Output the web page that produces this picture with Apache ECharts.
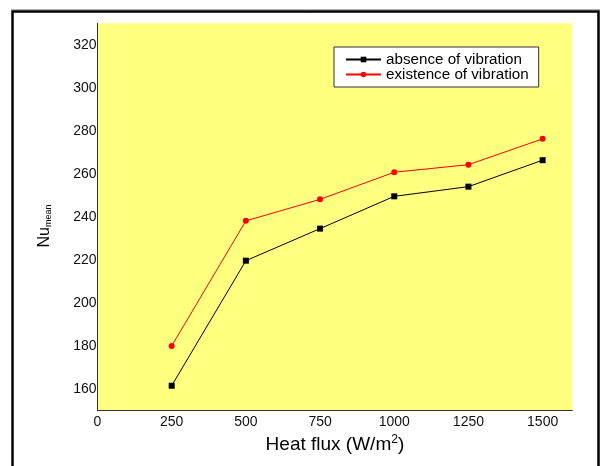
<!DOCTYPE html>
<html>
<head>
<meta charset="utf-8">
<script src="https://cdn.jsdelivr.net/npm/echarts@6/dist/echarts.min.js"></script>
<style>html,body{margin:0;padding:0;background:#fff}#c{width:603px;height:466px}</style>
</head>
<body>
<div id="c"></div>
<script>
var heatFlux = [250, 500, 750, 1000, 1250, 1500];
var absenceVib = [161.6, 219.7, 234.6, 249.6, 254.1, 266.4];
var existenceVib = [180.1, 238.2, 248.2, 260.8, 264.3, 276.3];
var seriesNames = ['absence of vibration', 'existence of vibration'];
var xTicks = [0, 250, 500, 750, 1000, 1250, 1500];
var yTicks = [160, 180, 200, 220, 240, 260, 280, 300, 320];

var font = '"Liberation Sans", Arial, sans-serif';
var chart = echarts.init(document.getElementById('c'), null, {renderer: 'canvas'});
function pairs(xs, ys) { return xs.map(function (x, i) { return [x, ys[i]]; }); }

chart.setOption({
  animation: false,
  backgroundColor: '#ffffff',
  textStyle: {fontFamily: font},
  graphic: [
    {type: 'line', shape: {x1: 11, y1: 9.5, x2: 600, y2: 9.5}, style: {stroke: '#b0b0b0', lineWidth: 1}, z: 100},
    {type: 'rect', shape: {x: 12.5, y: 11.5, width: 586, height: 500}, style: {fill: null, stroke: '#000', lineWidth: 2.5}, z: 100}
  ],
  grid: {left: 97.5, right: 30.7, top: 23.3, bottom: 55.3, show: true, backgroundColor: '#ffff80', borderWidth: 0},
  legend: {
    orient: 'vertical',
    left: 334, top: 47,
    padding: [5, 10, 5, 11],
    itemWidth: 35, itemHeight: 7, itemGap: 0,
    backgroundColor: '#ffffff',
    borderColor: '#333',
    borderWidth: 1,
    borderRadius: 0,
    textStyle: {fontFamily: font, fontSize: 15.2, color: '#000'},
    data: seriesNames
  },
  xAxis: {
    type: 'value', min: 0, max: 1600, interval: 250,
    name: 'Heat flux (W/m{sup|2})',
    nameLocation: 'middle', nameGap: 21,
    nameTextStyle: {fontFamily: font, fontSize: 19, color: '#000',
      rich: {sup: {fontFamily: font, fontSize: 12, color: '#000', verticalAlign: 'top', padding: [0, 0, 10, 0]}}},
    axisLine: {show: true, onZero: false, lineStyle: {color: '#333', width: 1}},
    axisTick: {show: false},
    splitLine: {show: false},
    axisLabel: {fontFamily: font, fontSize: 14, color: '#111', margin: 4,
      customValues: xTicks, formatter: function (v) { return String(v); }}
  },
  yAxis: {
    type: 'value', min: 150, max: 330,
    name: '{n|Nu}{s|mean}',
    nameLocation: 'middle', nameGap: 44, nameRotate: 90,
    nameTextStyle: {fontFamily: font, fontSize: 16, color: '#000', padding: [0, 18, 0, 0],
      rich: {n: {fontFamily: font, fontSize: 16, color: '#000'},
             s: {fontFamily: font, fontSize: 9, color: '#000', verticalAlign: 'bottom', padding: [9, 0, 0, 0]}}},
    axisLine: {show: true, onZero: false, lineStyle: {color: '#333', width: 1}},
    axisTick: {show: false},
    splitLine: {show: false},
    axisLabel: {fontFamily: font, fontSize: 14, color: '#111', margin: 1, customValues: yTicks,
      formatter: function (v) { return String(v); }}
  },
  series: [
    {name: seriesNames[0], type: 'line', data: pairs(heatFlux, absenceVib),
     symbol: 'rect', symbolSize: 6, color: '#000',
     lineStyle: {color: '#000', width: 1}, itemStyle: {color: '#000'}},
    {name: seriesNames[1], type: 'line', data: pairs(heatFlux, existenceVib),
     symbol: 'circle', symbolSize: 6, color: '#ff0000',
     lineStyle: {color: '#ff0000', width: 1}, itemStyle: {color: '#ff0000'}}
  ]
});
</script>
</body>
</html>
